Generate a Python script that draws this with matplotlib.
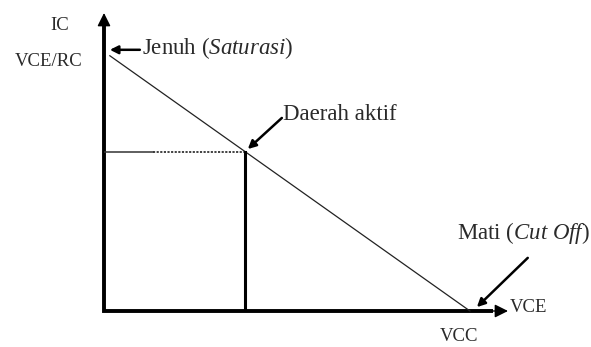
import matplotlib
matplotlib.use('Agg')
from matplotlib import pyplot as plt

plt.rcParams['font.family'] = ['Liberation Serif', 'DejaVu Serif']
plt.rcParams['mathtext.fontset'] = 'custom'
plt.rcParams['mathtext.rm'] = 'Liberation Serif'
plt.rcParams['mathtext.it'] = 'Liberation Serif:italic'

# load line: VCE on x, IC on y (normalised units)
vce_line = [0.16, 10.0]
ic_line = [9.85, 0.0]
# operating point (Daerah aktif)
q_vce = 3.85
q_ic = 6.15
solid_part = 0.35  # part of the guide line that is solid before the dots

x_end = 11.04
y_end = 11.5

fig = plt.figure(figsize=(5.91, 3.47), dpi=100)
ax = fig.add_axes([104 / 591, 36 / 347, 404 / 591, 298 / 347])
ax.set_xlim(0, x_end)
ax.set_ylim(0, y_end)
ax.axis('off')

# axes as an L with arrow heads
ax.plot([0, 0, x_end - 0.4], [y_end - 0.5, 0, 0], color='black', lw=2.8,
        solid_joinstyle='miter', solid_capstyle='butt', clip_on=False)
head = dict(arrowstyle='-|>', lw=1, mutation_scale=20, color='black',
            shrinkA=0, shrinkB=0)
ax.annotate('', xy=(0, y_end), xytext=(0, y_end - 0.6), arrowprops=head,
            annotation_clip=False)
ax.annotate('', xy=(x_end, 0), xytext=(x_end - 0.5, 0), arrowprops=head,
            annotation_clip=False)

# load line
ax.plot(vce_line, ic_line, color='#222222', lw=0.9, clip_on=False)

# guide lines to operating point
ax.plot([0, q_vce * solid_part], [q_ic, q_ic], color='#333333', lw=1.1)
ax.plot([q_vce * solid_part, q_vce], [q_ic, q_ic], color='#333333', lw=1.3,
        linestyle=(0, (1.2, 0.8)))
ax.plot([q_vce, q_vce], [0, q_ic], color='black', lw=2.2)

arrow = dict(arrowstyle='-|>', lw=1.8, mutation_scale=12, color='black',
             shrinkA=0, shrinkB=0)
ax.annotate('', xy=(0.16, 10.08), xytext=(0.98, 10.08), arrowprops=arrow,
            annotation_clip=False)
ax.annotate('', xy=(q_vce + 0.08, q_ic + 0.1), xytext=(4.86, 7.45),
            arrowprops=arrow, annotation_clip=False)
ax.annotate('', xy=(10.19, 0.15), xytext=(11.58, 2.05), arrowprops=arrow,
            annotation_clip=False)

fs = 16.5
fs2 = 13.5
tc = '#2a2a2a'
ax.text(1.04, 10.15, r'Jenuh ($\mathit{Saturasi}$)', fontsize=fs,
        ha='left', va='center', color=tc, clip_on=False)
ax.text(4.89, 7.6, 'Daerah aktif', fontsize=fs, ha='left', va='center',
        color=tc, clip_on=False)
ax.text(9.64, 3.01, r'Mati ($\mathit{Cut\ Off}$)', fontsize=fs, ha='left',
        va='center', color=tc, clip_on=False)
ax.text(11.09, 0.12, 'VCE', fontsize=fs2, ha='left', va='center',
        color=tc, clip_on=False)
ax.text(9.7, -1.0, 'VCC', fontsize=fs2, ha='center', va='center',
        color=tc, clip_on=False)
ax.text(-1.2, 11.0, 'IC', fontsize=fs2, ha='center', va='center',
        color=tc, clip_on=False)
ax.text(-1.5, 9.61, 'VCE/RC', fontsize=fs2, ha='center', va='center',
        color=tc, clip_on=False)

plt.savefig('out.png', dpi=100)
